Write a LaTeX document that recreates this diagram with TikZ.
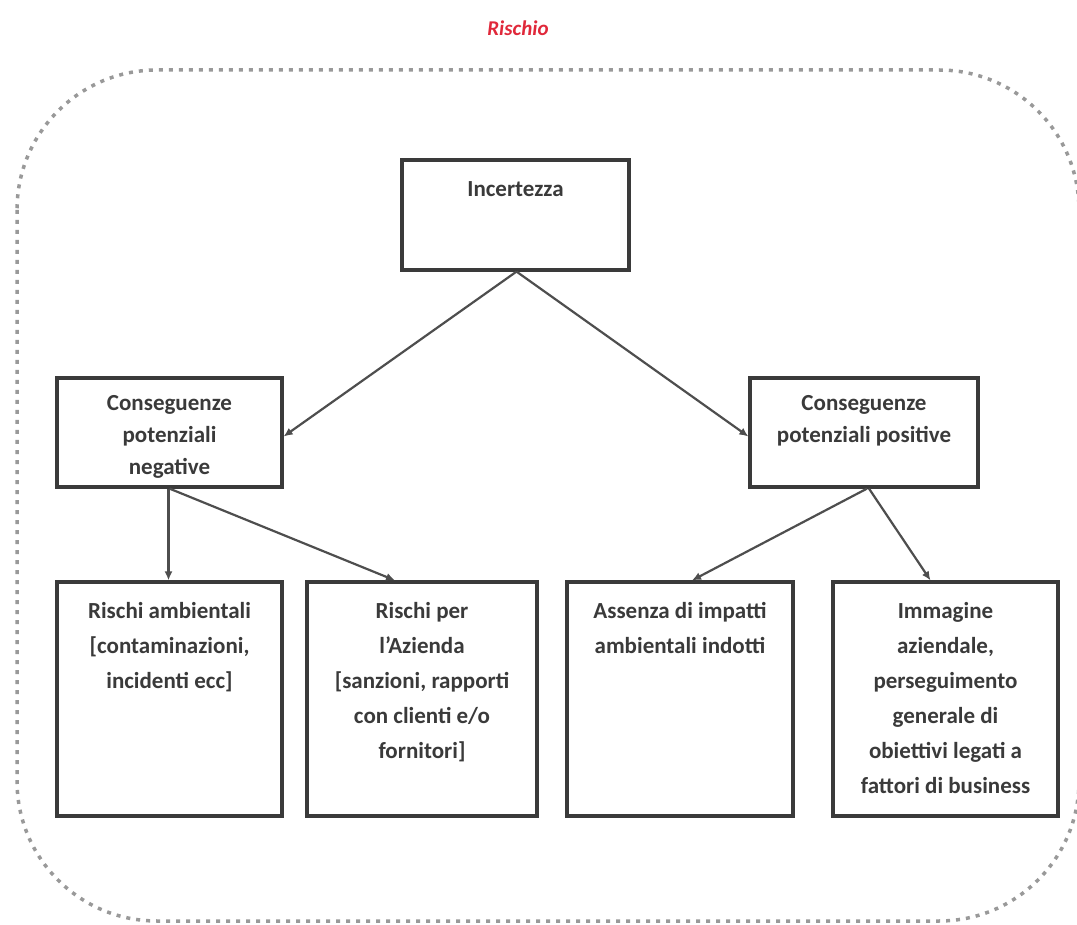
\documentclass[tikz,border=0pt]{standalone}
\usepackage{fontspec}
\setmainfont{Carlito}
\usetikzlibrary{arrows.meta}
\definecolor{boxline}{HTML}{3A3A3A}
\definecolor{txtgray}{HTML}{3A3A3A}
\definecolor{titlered}{HTML}{E0283A}
\begin{document}
\begin{tikzpicture}[x=1pt,y=-1pt,
  box/.style={draw=boxline, line width=3.2pt, fill=white, inner sep=0pt, anchor=center},
  conn/.style={draw=boxline!90, line width=2.2pt, -{Latex[length=9pt,width=8pt]}},
  outer/.style={draw=gray!80, line width=3.5pt, dash pattern=on 4pt off 6pt, rounded corners=140pt},
  ttl/.style={text=titlered, font=\fontsize{21}{24}\selectfont\bfseries\itshape}
]
\useasboundingbox (0,0) rectangle (1077,925);
\draw[outer] (17,70) rectangle (1079,921);
\node[ttl] (title) at (518,28) {Rischio};
% #1 height, #2 width, #3 top offset, #4 line spacing, #5 text
\newcommand{\boxtxt}[5]{\parbox[t][#1pt][t]{#2pt}{\centering\color{txtgray}\fontsize{23}{#4pt}\selectfont\bfseries\vspace*{#3pt}#5}}
\node[box, minimum width=227pt, minimum height=110pt] (inc) at (515.5,215) {\boxtxt{110}{227}{22}{35}{Incertezza}};
\node[box, minimum width=225pt, minimum height=109pt] (neg) at (169.5,432.5) {\boxtxt{109}{225}{17}{32}{Conseguenze\\potenziali\\negative}};
\node[box, minimum width=228pt, minimum height=109pt] (pos) at (864,432.5) {\boxtxt{109}{228}{17}{32}{Conseguenze\\potenziali positive}};
\node[box, minimum width=225pt, minimum height=234pt] (b1) at (169.5,699) {\boxtxt{234}{225}{20}{35}{Rischi ambientali\\{[}contaminazioni,\\incidenti ecc{]}}};
\node[box, minimum width=230pt, minimum height=234pt] (b2) at (422,699) {\boxtxt{234}{230}{20}{35}{Rischi per\\l'Azienda\\{[}sanzioni, rapporti\\con clienti e/o\\fornitori{]}}};
\node[box, minimum width=226pt, minimum height=234pt] (b3) at (680,699) {\boxtxt{234}{226}{20}{35}{Assenza di impatti\\ambientali indotti}};
\node[box, minimum width=225pt, minimum height=234pt] (b4) at (945.5,699) {\boxtxt{234}{225}{20}{35}{Immagine\\aziendale,\\perseguimento\\generale di\\obiettivi legati a\\fattori di business}};
\draw[conn] ([xshift=1pt]inc.south) -- ([yshift=-4pt]neg.east);
\draw[conn] ([xshift=1pt]inc.south) -- ([yshift=-4pt]pos.west);
\draw[conn] ([xshift=-1pt]neg.south) -- ([xshift=-1pt]b1.north);
\draw[conn] (neg.south) -- ([xshift=-27pt]b2.north);
\draw[conn] ([xshift=3pt]pos.south) -- ([xshift=12pt]b3.north);
\draw[conn] ([xshift=5pt]pos.south) -- ([xshift=-15pt]b4.north);
\end{tikzpicture}
\end{document}
